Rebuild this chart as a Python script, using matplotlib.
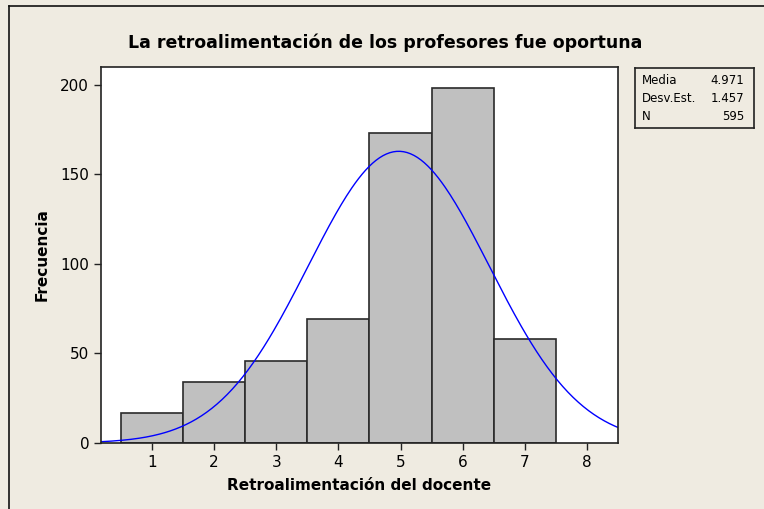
import matplotlib
matplotlib.use("Agg")
import matplotlib.pyplot as plt
import numpy as np
from matplotlib.lines import Line2D

# histogram data
bins = [1, 2, 3, 4, 5, 6, 7]
counts = [17, 34, 46, 69, 173, 198, 58]
media = 4.971
desv = 1.457
n_total = 595

stat_labels = ["Media", "Desv.Est.", "N"]
stat_values = ["4.971", "1.457", "595"]

bg = "#EFEBE1"
plt.rcParams["font.family"] = ["DejaVu Sans"]

fig = plt.figure(figsize=(7.64, 5.09), dpi=100, facecolor=bg)
ax = fig.add_axes([101 / 764, 66 / 509, 517 / 764, 376 / 509])
ax.set_facecolor("white")

ax.bar(bins, counts, width=1.0, color="#C0C0C0", edgecolor="#2A2A2A", linewidth=1.2)

x0, x1 = 0.18, 8.5
x = np.linspace(x0, x1, 300)
y = n_total * 1.0 / (desv * np.sqrt(2 * np.pi)) * np.exp(-0.5 * ((x - media) / desv) ** 2)
ax.plot(x, y, color="#0000FF", linewidth=1.0)

ax.set_xlim(x0, x1)
ax.set_ylim(0, 210)
ax.set_xticks(range(1, 9))
ax.set_yticks([0, 50, 100, 150, 200])
ax.tick_params(labelsize=11, length=5, color="#222222", width=1)
for s in ax.spines.values():
    s.set_linewidth(1.2)
    s.set_color("#222222")

ax.set_xlabel("Retroalimentación del docente", fontsize=11, fontweight="bold", labelpad=6)
ax.set_ylabel("Frecuencia", fontsize=11, fontweight="bold", labelpad=8)
fig.text(385 / 764, 1 - 43 / 509, "La retroalimentación de los profesores fue oportuna",
         ha="center", va="center", fontsize=12.5, fontweight="bold")

# stats box
box = fig.add_axes([635 / 764, 1 - 128 / 509, 119 / 764, 60 / 509])
box.set_facecolor(bg)
box.set_xticks([])
box.set_yticks([])
for s in box.spines.values():
    s.set_linewidth(1.2)
    s.set_color("#222222")
for i, (lab, val) in enumerate(zip(stat_labels, stat_values)):
    yy = 0.80 - i * 0.30
    box.text(0.06, yy, lab, fontsize=8.5, va="center", ha="left", transform=box.transAxes)
    box.text(0.92, yy, val, fontsize=8.5, va="center", ha="right", transform=box.transAxes)

# outer frame (left and top edges)
fig.add_artist(Line2D([9 / 764, 9 / 764], [0, 1 - 6 / 509], color="#111111", linewidth=1.2,
                      transform=fig.transFigure))
fig.add_artist(Line2D([9 / 764, 1], [1 - 6 / 509, 1 - 6 / 509], color="#111111", linewidth=1.2,
                      transform=fig.transFigure))

fig.savefig("out.png", dpi=100, facecolor=bg)
